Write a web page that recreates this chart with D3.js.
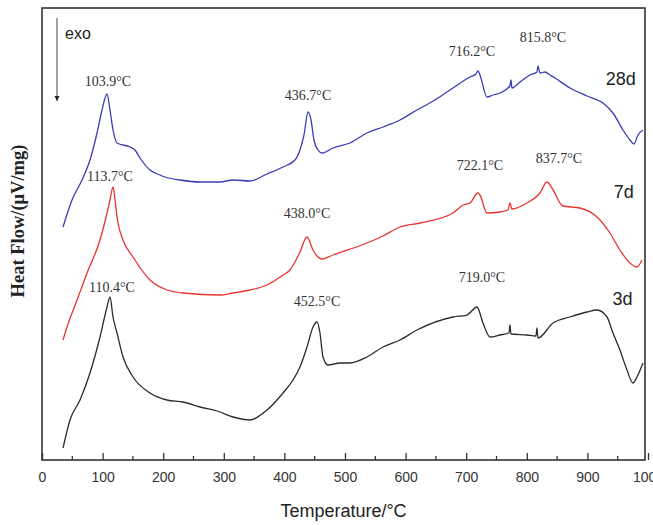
<!DOCTYPE html>
<html>
<head>
<meta charset="utf-8">
<script src="https://cdn.jsdelivr.net/npm/d3@7"></script>
<style>
  body { margin: 0; background: #fff; }
  svg { display: block; }
</style>
</head>
<body>
<div id="chart"></div>
<script>
(function () {
    "use strict";
    // DSC curves (heat flow in arbitrary stacked units)
    var temp28 = [34.7, 49.5, 66, 79.2, 90.8, 99, 107.3, 112.2, 117.2, 123.8, 145.2, 153.5, 161.7, 178.2, 194.7, 203, 227.7, 260.7, 293.7, 315.2, 343.2, 371.3, 397.7, 417.5, 425.7, 432.3, 439, 443.9, 448.8, 455.4, 462, 480.2, 508.2, 536.3, 562.7, 590.7, 618.8, 648.5, 673.2, 706.2, 716.1, 719.4, 722.7, 734.3, 744.2, 755.7, 772.2, 773.9, 775.5, 788.7, 805.2, 816.8, 818.4, 821.7, 830, 838.2, 846.5, 871.2, 899.3, 925.7, 942.2, 958.7, 970.2, 976.8, 983.4, 991.7];
    var flow28 = [23.3, 26.0, 28.0, 30.0, 32.7, 35.0, 36.6, 35.0, 33.0, 31.7, 31.3, 31.0, 30.2, 29.0, 28.5, 28.3, 28.0, 27.8, 27.8, 28.0, 27.9, 28.6, 29.3, 30.0, 31.0, 32.5, 34.8, 34.0, 32.0, 31.0, 30.7, 31.2, 31.7, 32.7, 33.3, 34.0, 35.0, 36.0, 37.0, 38.3, 38.6, 38.9, 38.5, 36.3, 36.5, 36.7, 37.4, 38.0, 37.2, 37.8, 38.5, 38.8, 39.4, 38.7, 38.8, 38.5, 38.2, 37.2, 36.4, 35.7, 34.7, 33.0, 32.0, 31.6, 32.5, 33.0];

    var temp7 = [34.7, 41.3, 57.8, 74.3, 95.7, 107.3, 112.2, 117.2, 120.5, 123.8, 133.7, 150.2, 178.2, 206.3, 232.7, 293.7, 315.2, 343.2, 371.3, 397.7, 409.2, 417.5, 425.7, 437.3, 447.2, 455.4, 462, 480.2, 536.3, 562.7, 590.7, 623.7, 678.2, 694.7, 706.2, 719.4, 722.7, 734.3, 755.7, 768.9, 772.2, 775.5, 800.3, 821.7, 833.3, 841.5, 859.6, 887.7, 915.8, 937.2, 953.7, 970.2, 981.8, 990];
    var flow7 = [12.0, 13.3, 16.0, 18.7, 22.0, 24.7, 26.0, 27.3, 26.0, 24.3, 22.0, 20.3, 18.0, 17.0, 16.7, 16.5, 16.7, 17.0, 17.5, 18.5, 19.0, 19.8, 20.8, 22.3, 21.0, 20.3, 20.1, 20.5, 21.7, 22.4, 23.3, 23.7, 24.7, 25.5, 25.7, 26.7, 26.5, 24.7, 24.8, 25.0, 25.7, 25.1, 25.7, 26.7, 27.8, 27.2, 25.4, 25.2, 24.3, 22.7, 21.0, 19.7, 19.3, 20.0];

    var temp3 = [34.7, 46.2, 62.7, 79.2, 95.7, 107.3, 112.2, 117.2, 123.8, 133.7, 150.2, 178.2, 206.3, 232.7, 260.7, 288.8, 315.2, 343.2, 371.3, 397.7, 414.2, 425.7, 437.3, 447.2, 453.8, 458.7, 463.7, 471.9, 491.7, 508.2, 536.3, 562.7, 590.7, 618.8, 678.2, 701.3, 717.8, 727.7, 739.2, 755.7, 770.6, 772.2, 773.9, 800.3, 815.1, 816.8, 818.4, 843.2, 871.2, 899.3, 915.8, 932.3, 942.2, 953.7, 965.3, 975.2, 981.8, 991.7];
    var flow3 = [1.2, 4.0, 6.0, 8.7, 12.3, 15.3, 16.3, 14.3, 12.7, 10.3, 8.3, 6.7, 6.0, 5.8, 5.3, 4.9, 4.3, 4.0, 5.0, 6.7, 8.0, 9.3, 11.3, 13.3, 13.8, 12.7, 10.3, 9.5, 9.7, 9.7, 10.3, 11.3, 12.0, 13.0, 14.3, 14.5, 15.3, 13.7, 12.3, 12.5, 12.7, 13.5, 12.6, 12.5, 12.4, 13.2, 12.2, 13.7, 14.3, 14.8, 15.0, 14.3, 12.7, 11.0, 9.0, 7.7, 8.3, 9.7];

    var seriesNames = ["28d", "7d", "3d"];
    var seriesColors = ["#3c3cb4", "#e83530", "#2e2a2a"];
    var seriesLabelT = [955, 960, 958];
    var seriesLabelHf = [38.0, 26.7, 16.0];

    // peak annotations: text, temperature, heat flow of label centre
    var peakText = ["103.9°C", "436.7°C", "716.2°C", "815.8°C", "113.7°C", "438.0°C", "722.1°C", "837.7°C", "110.4°C", "452.5°C", "719.0°C"];
    var peakT = [108.9, 439, 709.5, 826.7, 112.2, 437.3, 722.7, 853, 115.5, 453.8, 726];
    var peakHf = [37.7, 36.3, 40.7, 42.1, 28.2, 24.5, 29.3, 30.0, 17.1, 15.7, 18.1];

    var xTicks = [0, 100, 200, 300, 400, 500, 600, 700, 800, 900, 1000];

    var w = 653, h = 525;
    var left = 42, top = 8, right = 645, bottom = 460;

    var svg = d3.select('#chart').append('svg').attr('width', w).attr('height', h);

    var x = d3.scaleLinear().domain([0, 1000]).range([left, 648]);
    var y = d3.scaleLinear().domain([0, 45.2]).range([bottom, top]);

    var series = [
        {t: temp28, f: flow28},
        {t: temp7, f: flow7},
        {t: temp3, f: flow3}
    ];

    var line = d3.line()
        .curve(d3.curveMonotoneX)
        .x(function (d) { return x(d[0]); })
        .y(function (d) { return y(d[1]); });

    series.forEach(function (s, i) {
        var pts = s.t.map(function (t, k) { return [t, s.f[k]]; });
        svg.append('path')
            .attr('d', line(pts))
            .attr('fill', 'none')
            .attr('stroke', seriesColors[i])
            .attr('stroke-width', 1.3)
            .attr('stroke-linejoin', 'round');
        svg.append('text')
            .attr('x', x(seriesLabelT[i]))
            .attr('y', y(seriesLabelHf[i]))
            .attr('text-anchor', 'middle')
            .attr('dominant-baseline', 'middle')
            .attr('font-family', 'Liberation Sans, Arial, sans-serif')
            .attr('font-size', 18)
            .attr('fill', '#222')
            .text(seriesNames[i]);
    });

    svg.selectAll('text.peak').data(peakText).enter().append('text')
        .attr('class', 'peak')
        .attr('x', function (d, i) { return x(peakT[i]); })
        .attr('y', function (d, i) { return y(peakHf[i]); })
        .attr('text-anchor', 'middle')
        .attr('dominant-baseline', 'middle')
        .attr('font-family', 'Liberation Serif, Times New Roman, serif')
        .attr('font-size', 14)
        .attr('fill', '#333')
        .text(function (d) { return d; });

    // bottom axis with inward ticks
    var xAxis = d3.axisBottom(x).tickValues(xTicks).tickSize(-7).tickPadding(12)
        .tickFormat(d3.format('d'));
    var gx = svg.append('g').attr('transform', 'translate(0,' + bottom + ')').call(xAxis);
    gx.select('.domain').remove();
    gx.selectAll('line').attr('stroke', '#333').attr('stroke-width', 1.3);
    gx.selectAll('text')
        .attr('font-family', 'Liberation Sans, Arial, sans-serif')
        .attr('font-size', 14)
        .attr('fill', '#333');
    var minor = d3.range(50, 1000, 100);
    svg.selectAll('line.minor').data(minor).enter().append('line')
        .attr('x1', function (d) { return x(d); })
        .attr('x2', function (d) { return x(d); })
        .attr('y1', bottom)
        .attr('y2', bottom - 4)
        .attr('stroke', '#333')
        .attr('stroke-width', 1.3);

    // frame
    svg.append('rect')
        .attr('x', left).attr('y', top)
        .attr('width', right - left).attr('height', bottom - top)
        .attr('fill', 'none').attr('stroke', '#333').attr('stroke-width', 1.6);

    // exo arrow
    svg.append('defs').append('marker')
        .attr('id', 'arrow').attr('viewBox', '0 0 10 10')
        .attr('refX', 10).attr('refY', 5)
        .attr('markerWidth', 5).attr('markerHeight', 8)
        .attr('orient', 'auto')
        .append('path').attr('d', 'M0,0 L10,5 L0,10 z').attr('fill', '#222');
    svg.append('line')
        .attr('x1', 57).attr('x2', 57).attr('y1', 18).attr('y2', 101)
        .attr('stroke', '#444').attr('stroke-width', 1)
        .attr('marker-end', 'url(#arrow)');
    svg.append('text')
        .attr('x', 65).attr('y', 39)
        .attr('font-family', 'Liberation Sans, Arial, sans-serif')
        .attr('font-size', 16)
        .attr('fill', '#222')
        .text('exo');

    // axis titles
    svg.append('text')
        .attr('x', (left + right) / 2).attr('y', 517)
        .attr('text-anchor', 'middle')
        .attr('font-family', 'Liberation Sans, Arial, sans-serif')
        .attr('font-size', 18)
        .attr('fill', '#222')
        .text('Temperature/°C');
    svg.append('text')
        .attr('transform', 'translate(20,221) rotate(-90)')
        .attr('text-anchor', 'middle')
        .attr('dominant-baseline', 'middle')
        .attr('font-family', 'Liberation Serif, Times New Roman, serif')
        .attr('font-weight', 'bold')
        .attr('font-size', 18.5)
        .attr('fill', '#222')
        .text('Heat Flow/(μV/mg)');
}());
</script>
</body>
</html>
